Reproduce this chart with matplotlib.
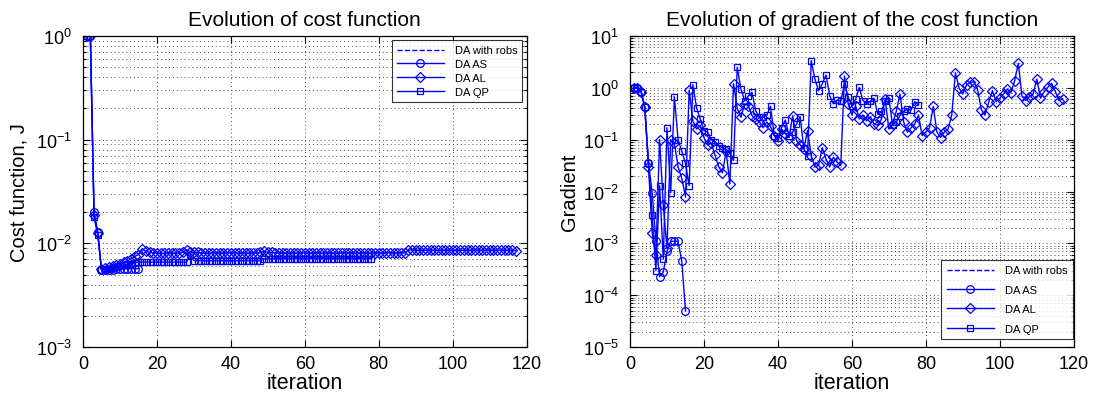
import matplotlib
matplotlib.use('Agg')
import matplotlib.pyplot as plt
from matplotlib.ticker import NullFormatter, FixedLocator, LogFormatterSciNotation

plt.rcParams['font.family'] = ['Liberation Sans', 'DejaVu Sans']
plt.rcParams['mathtext.fontset'] = 'custom'
plt.rcParams['mathtext.rm'] = 'Liberation Sans'
plt.rcParams['mathtext.it'] = 'Liberation Sans:italic'
plt.rcParams['mathtext.bf'] = 'Liberation Sans:bold'

# ---------------- data: cost function (left) ----------------
cost_robs = []
cost_as = [1.0, 1.0, 0.02, 0.013, 0.0056, 0.0056, 0.0056, 0.0056, 0.0057, 0.0057,
           0.0057, 0.0057, 0.0057, 0.0057, 0.0057]
cost_al = [1.0, 1.0, 0.019, 0.0125,
           0.0057, 0.0058, 0.0059, 0.006, 0.0062, 0.0064, 0.0066, 0.0068, 0.0071, 0.0075, 0.0078, 0.0089,
           0.0084, 0.0082, 0.0081, 0.0081, 0.008, 0.008, 0.0081, 0.0081, 0.008, 0.0081, 0.0082, 0.0087, 0.0083,
           0.0082, 0.0082, 0.0081, 0.0081, 0.0081, 0.0081, 0.0081, 0.0081, 0.0081, 0.0081,
           0.0081, 0.0081, 0.0081, 0.0081, 0.0081, 0.0081, 0.0081, 0.0081, 0.0082, 0.0084,
           0.0082, 0.0082, 0.0081, 0.0081, 0.0081, 0.0081, 0.0081, 0.0081, 0.0081, 0.0081,
           0.0081, 0.0081, 0.0081, 0.0081, 0.0081, 0.0081, 0.0081, 0.0081, 0.0081, 0.0081,
           0.0081, 0.0081, 0.0081, 0.0081, 0.0081, 0.0081, 0.0081, 0.0081, 0.0081, 0.0081,
           0.0081, 0.0081, 0.0081, 0.0081, 0.0081, 0.0081, 0.0081, 0.0081,
           0.0086, 0.0087, 0.0086, 0.0086, 0.0086, 0.0086, 0.0086, 0.0086, 0.0086, 0.0086,
           0.0086, 0.0086, 0.0086, 0.0086, 0.0086, 0.0086, 0.0086, 0.0086, 0.0086, 0.0086,
           0.0086, 0.0086, 0.0086, 0.0086, 0.0086, 0.0086, 0.0086, 0.0086, 0.0086, 0.0085]
cost_qp = [1.0, 1.0, 0.018, 0.012,
           0.0056, 0.0056, 0.0057, 0.0058, 0.0059, 0.006, 0.0062, 0.0063, 0.0064, 0.0065, 0.0066, 0.0066,
           0.0066, 0.0066, 0.0066, 0.0066, 0.0066, 0.0066, 0.0066, 0.0066, 0.0066, 0.0066, 0.0066, 0.0066,
           0.0078, 0.0068, 0.0068, 0.0068, 0.0068, 0.0068, 0.0068, 0.0068, 0.0068, 0.0068, 0.0068,
           0.0068, 0.0068, 0.0068, 0.0068, 0.0068, 0.0068, 0.0068, 0.0068, 0.0068,
           0.0071, 0.0071, 0.0071, 0.0071, 0.0071, 0.0071, 0.0071, 0.0071, 0.0071, 0.0071,
           0.0071, 0.0071, 0.0071, 0.0071, 0.0071, 0.0071, 0.0071, 0.0071, 0.0071, 0.0071,
           0.0071, 0.0071, 0.0071, 0.0071, 0.0071, 0.0071, 0.0071, 0.0071, 0.0071, 0.0071]

# ---------------- data: gradient (right) ----------------
grad_robs = []
grad_as = [1.0, 1.0, 0.85, 0.42, 0.035, 0.0095, 0.0011, 0.00023, 0.00028, 0.0007,
           0.0011, 0.0011, 0.0011, 0.00045, 0.00005]
grad_al = [1.0, 1.0, 0.85, 0.42, 0.03, 0.0016, 0.0006, 0.1, 0.0055, 0.0008,
           0.1, 0.086, 0.03, 0.018, 0.008, 0.9, 0.23, 0.16, 0.19, 0.11,
           0.08, 0.085, 0.05, 0.03, 0.023, 0.06, 0.014, 1.2, 0.4, 0.27,
           0.49, 0.45, 0.29, 0.25, 0.22, 0.17, 0.22, 0.18, 0.12, 0.096,
           0.16, 0.13, 0.11, 0.29, 0.096, 0.08, 0.066, 0.15, 0.049, 0.03,
           0.032, 0.07, 0.042, 0.03, 0.046, 0.037, 0.032, 1.7, 0.49, 0.3,
           0.45, 0.25, 0.3, 0.23, 0.28, 0.2, 0.19, 0.25, 0.6, 0.16,
           0.2, 0.35, 0.76, 0.22, 0.14, 0.17, 0.2, 0.3, 0.12, 0.14,
           0.17, 0.44, 0.14, 0.11, 0.14, 0.16, 0.3, 1.95, 0.98, 0.76,
           1.14, 1.28, 1.3, 0.92, 0.38, 0.3, 0.53, 0.88, 0.54, 0.63,
           0.76, 0.95, 0.8, 1.35, 2.97, 0.69, 0.57, 0.68, 0.76, 1.48,
           0.63, 0.84, 1.03, 1.22, 0.85, 0.57, 0.61]
grad_qp = [1.0, 1.0, 0.85, 0.42, 0.035, 0.0035, 0.0003, 0.013, 0.0005, 0.17,
           0.0095, 0.67, 0.1, 0.06, 0.035, 0.013, 1.15, 0.41, 0.25, 0.15,
           0.14, 0.1, 0.09, 0.075, 0.07, 0.065, 0.055, 0.04, 2.5, 0.95,
           0.56, 0.7, 0.82, 0.36, 0.27, 0.27, 0.3, 0.44, 0.12, 0.11,
           0.17, 0.24, 0.12, 0.14, 0.2, 0.28, 0.068, 0.048, 3.34, 1.48,
           0.88, 1.2, 1.77, 0.71, 0.49, 0.58, 0.55, 1.19, 0.66, 0.45,
           0.6, 1.02, 0.57, 0.49, 0.55, 0.63, 0.31, 0.35, 0.57, 0.64,
           0.19, 0.22, 0.29, 0.35, 0.39, 0.37, 0.54, 0.47]

labels = ['DA with robs', 'DA AS', 'DA AL', 'DA QP']
xticks = [0, 20, 40, 60, 80, 100, 120]
cost_decades = [-3, -2, -1, 0]
grad_decades = [-5, -4, -3, -2, -1, 0, 1]

BLUE = (0, 0, 1)

fig = plt.figure(figsize=(10.93, 4.02), dpi=100)
ax1 = fig.add_axes([0.0759, 0.134, 0.406, 0.774])
ax2 = fig.add_axes([0.5764, 0.134, 0.406, 0.774])


def its(vals):
    return list(range(1, len(vals) + 1))


def draw(ax, robs, s_as, s_al, s_qp):
    kw = dict(color=BLUE, lw=1.0, markersize=5.5, markeredgewidth=0.9, markerfacecolor='none')
    ax.plot(its(robs), robs, '--', color=BLUE, lw=1.0, label=labels[0])
    ax.plot(its(s_as), s_as, '-o', label=labels[1], **kw)
    ax.plot(its(s_al), s_al, '-D', label=labels[2], **{**kw, 'markersize': 5})
    ax.plot(its(s_qp), s_qp, '-s', label=labels[3], **{**kw, 'markersize': 5})


def style(ax, decades):
    ax.set_yscale('log')
    ax.set_xlim(0, 120)
    ax.set_ylim(10.0 ** decades[0], 10.0 ** decades[-1])
    ax.xaxis.set_major_locator(FixedLocator(xticks))
    majors = [10.0 ** d for d in decades]
    minors = [m * 10.0 ** d for d in decades[:-1] for m in range(2, 10)]
    ax.yaxis.set_major_locator(FixedLocator(majors))
    ax.yaxis.set_major_formatter(LogFormatterSciNotation())
    ax.yaxis.set_minor_locator(FixedLocator(minors))
    ax.yaxis.set_minor_formatter(NullFormatter())
    ax.grid(True, which='major', axis='both', color='0.3', ls=(0, (1, 3)), lw=0.7)
    ax.grid(True, which='minor', axis='y', color='0.3', ls=(0, (1, 3)), lw=0.7)
    ax.tick_params(which='both', direction='in', top=True, right=True, labelsize=13, width=0.8)
    ax.tick_params(which='major', length=5)
    ax.tick_params(which='minor', length=2.5)
    ax.tick_params(axis='x', which='major', pad=6)
    ax.tick_params(axis='y', which='major', pad=8)
    for sp in ax.spines.values():
        sp.set_linewidth(0.9)
    ax.set_xlabel('iteration', fontsize=15.5, labelpad=0)


draw(ax1, cost_robs, cost_as, cost_al, cost_qp)
style(ax1, cost_decades)
ax1.set_title('Evolution of cost function', fontsize=15, pad=8)
ax1.set_ylabel('Cost function, J', fontsize=14.5, labelpad=5)
leg1 = ax1.legend(loc='upper right', fontsize=8, frameon=True, fancybox=False,
                  edgecolor='black', handlelength=4.2, labelspacing=0.35,
                  borderaxespad=0.4, borderpad=0.45, handletextpad=1.0)
leg1.get_frame().set_linewidth(0.8)

draw(ax2, grad_robs, grad_as, grad_al, grad_qp)
style(ax2, grad_decades)
ax2.set_title('Evolution of gradient of the cost function', fontsize=15, pad=8)
ax2.set_ylabel('Gradient', fontsize=14.5, labelpad=3)
leg2 = ax2.legend(loc='lower right', bbox_to_anchor=(0.998, 0.025), fontsize=8, frameon=True,
                  fancybox=False, edgecolor='black', handlelength=4.2, labelspacing=0.85,
                  borderaxespad=0.0, borderpad=0.5, handletextpad=1.0)
leg2.get_frame().set_linewidth(0.8)

fig.savefig('out.png', dpi=100)
